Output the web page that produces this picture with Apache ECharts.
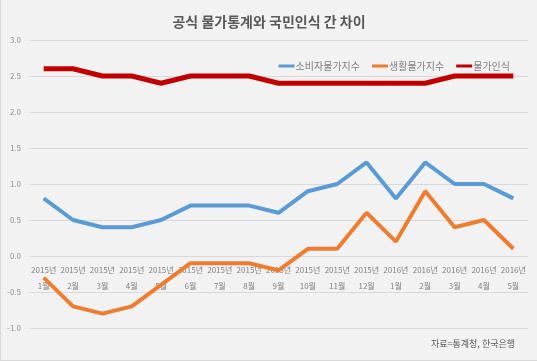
<!DOCTYPE html>
<html><head><meta charset="utf-8">
<script src="https://cdn.jsdelivr.net/npm/echarts@6/dist/echarts.min.js"></script>
<style>html,body{margin:0;padding:0;background:#f2f2f2;}#c{width:537px;height:361px;box-sizing:border-box;border-left:1px solid #d9d9d9;border-bottom:1px solid #d9d9d9;}</style>
</head><body><div id="c"></div>
<script>
const categories = ['2015년\n1월','2015년\n2월','2015년\n3월','2015년\n4월','2015년\n5월','2015년\n6월','2015년\n7월','2015년\n8월','2015년\n9월','2015년\n10월','2015년\n11월','2015년\n12월','2016년\n1월','2016년\n2월','2016년\n3월','2016년\n4월','2016년\n5월'];
const cpi = [0.8,0.5,0.4,0.4,0.5,0.7,0.7,0.7,0.6,0.9,1.0,1.3,0.8,1.3,1.0,1.0,0.8];
const living = [-0.3,-0.7,-0.8,-0.7,-0.4,-0.1,-0.1,-0.1,-0.2,0.1,0.1,0.6,0.2,0.9,0.4,0.5,0.1];
const perception = [2.6,2.6,2.5,2.5,2.4,2.5,2.5,2.5,2.4,2.4,2.4,2.4,2.4,2.4,2.5,2.5,2.5];
const seriesNames = ['소비자물가지수','생활물가지수','물가인식'];
const colors = ['#5b9bd5','#ed7d31','#c00000'];
const font = '"Noto Sans CJK KR", sans-serif';
const chart = echarts.init(document.getElementById('c'));
chart.setOption({
  backgroundColor:'#f2f2f2',
  animation:false,
  textStyle:{fontFamily:font},
  title:{text:'공식 물가통계와 국민인식 간 차이',left:'center',top:10,textStyle:{fontFamily:font,fontSize:14,fontWeight:'bold',color:'#595959'}},
  legend:{right:22,top:56,itemWidth:16,itemHeight:3,itemGap:12,icon:'rect',textStyle:{fontFamily:font,fontSize:10,color:'#7f7f7f',padding:[0,0,0,-4]},
    data:seriesNames},
  grid:{left:28,right:9,top:40,bottom:32,outerBoundsMode:'none',containLabel:false},
  xAxis:{type:'category',data:categories,axisLine:{show:false,onZero:false},axisTick:{show:false},
    axisLabel:{fontFamily:font,fontSize:8,color:'#7f7f7f',lineHeight:16,margin:-66,interval:0}},
  yAxis:{type:'value',min:-1,max:3,interval:0.5,axisLine:{show:false},axisTick:{show:false},
    splitLine:{lineStyle:{color:'#d9d9d9'}},
    axisLabel:{fontFamily:font,fontSize:8,color:'#8c8c8c',margin:8,formatter:v=>v.toFixed(1)}},
  graphic:[{type:'text',right:22,top:339,style:{text:'자료=통계청, 한국은행',font:'9px '+font,fill:'#595959'}}],
  series:[
    {name:seriesNames[0],type:'line',data:cpi,symbol:'none',lineStyle:{width:4,color:colors[0]},itemStyle:{color:colors[0]},z:3},
    {name:seriesNames[1],type:'line',data:living,symbol:'none',lineStyle:{width:4,color:colors[1]},itemStyle:{color:colors[1]},z:2},
    {name:seriesNames[2],type:'line',data:perception,symbol:'none',lineStyle:{width:5,color:colors[2]},itemStyle:{color:colors[2]},z:4}
  ]
});
</script></body></html>
